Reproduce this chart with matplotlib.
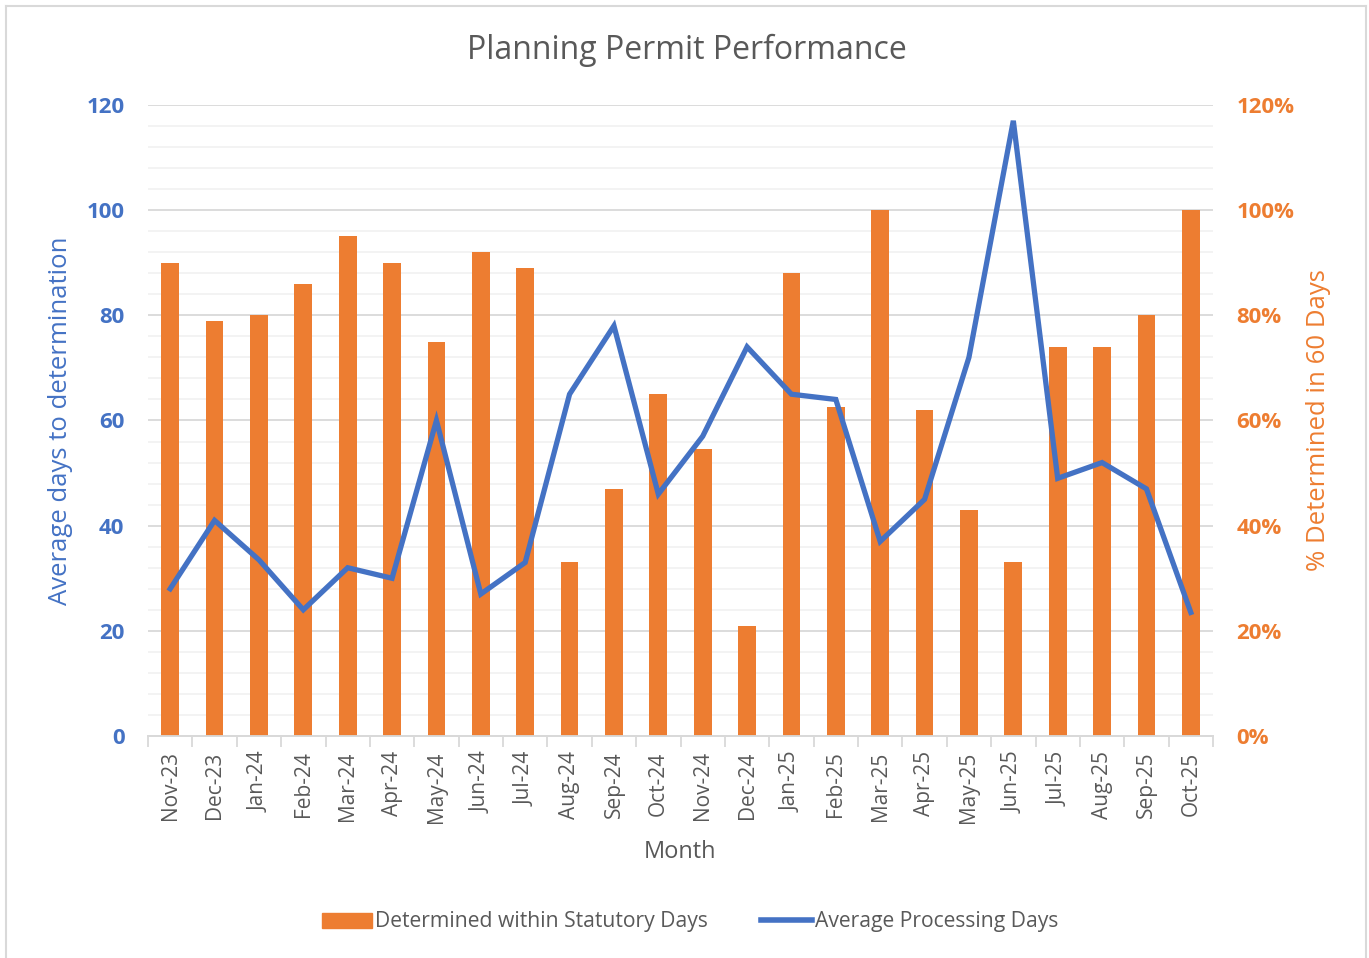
import matplotlib
matplotlib.use("Agg")
import matplotlib.pyplot as plt
from matplotlib.lines import Line2D
from matplotlib.patches import Patch
from matplotlib.ticker import MultipleLocator, FuncFormatter
import numpy as np

months = ["Nov-23", "Dec-23", "Jan-24", "Feb-24", "Mar-24", "Apr-24", "May-24", "Jun-24",
          "Jul-24", "Aug-24", "Sep-24", "Oct-24", "Nov-24", "Dec-24", "Jan-25", "Feb-25",
          "Mar-25", "Apr-25", "May-25", "Jun-25", "Jul-25", "Aug-25", "Sep-25", "Oct-25"]
pct_within = [90, 79, 80, 86, 95, 90, 75, 92, 89, 33, 47, 65, 54.5, 21, 88, 62.5,
              100, 62, 43, 33, 74, 74, 80, 100]
avg_days = [28, 41, 33.5, 24, 32, 30, 60, 27, 33, 65, 78, 46, 57, 74, 65, 64,
            37, 45, 72, 117, 49, 52, 47, 23.5]

BLUE = "#4472C4"
ORANGE = "#ED7D31"
GRAY = "#595959"
FONT = "Open Sans"

plt.rcParams['font.family'] = [FONT, 'DejaVu Sans']

W, H = 1369, 958
fig = plt.figure(figsize=(W / 100, H / 100), dpi=100)
fig.patch.set_facecolor("white")

left, right, top, bottom = 148, 1213, 105, 736
ax2 = fig.add_axes([left / W, 1 - bottom / H, (right - left) / W, (bottom - top) / H])
ax = ax2.twinx()
ax.yaxis.tick_left()
ax.yaxis.set_label_position("left")
ax2.yaxis.tick_right()
ax2.yaxis.set_label_position("right")

x = np.arange(len(months))

# bars on ax2 (percent)
ax2.bar(x, np.array(pct_within) / 100.0, width=0.4, color=ORANGE, zorder=3)
ax2.set_ylim(0, 1.2)
ax2.yaxis.set_major_locator(MultipleLocator(0.2))
ax2.yaxis.set_minor_locator(MultipleLocator(0.04))
ax2.yaxis.set_major_formatter(FuncFormatter(lambda v, p: f"{v*100:.0f}%"))
ax2.grid(True, which="major", axis="y", color="#D9D9D9", linewidth=1.3, zorder=0)
ax2.grid(True, which="minor", axis="y", color="#F2F2F2", linewidth=1.3, zorder=0)
ax2.set_axisbelow(True)
ax2.tick_params(axis="y", which="both", length=0, labelsize=16, labelcolor=ORANGE, pad=17)
for lab in ax2.get_yticklabels():
    lab.set_fontweight("bold")
ax2.set_ylabel("% Determined in 60 Days", color=ORANGE, fontsize=18.5, rotation=90)
ax2.yaxis.set_label_coords(1.0986, 0.5)
ax2.yaxis.label.set_va("center")

# line on ax (days)
ax.plot(x, avg_days, color=BLUE, linewidth=3.8, solid_joinstyle="miter", zorder=5)
ax.set_ylim(0, 120)
ax.yaxis.set_major_locator(MultipleLocator(20))
ax.tick_params(axis="y", which="both", length=0, labelsize=16, labelcolor=BLUE, pad=17)
for lab in ax.get_yticklabels():
    lab.set_fontweight("bold")
ax.set_ylabel("Average days to determination", color=BLUE, fontsize=18.5)
ax.yaxis.set_label_coords(-0.0826, 0.5)
ax.yaxis.label.set_va("center")

ax.set_zorder(ax2.get_zorder() + 1)
ax.patch.set_visible(False)

for a in (ax, ax2):
    for s in ("top", "right", "left"):
        a.spines[s].set_visible(False)
    a.spines["bottom"].set_color("#D9D9D9")
    a.spines["bottom"].set_linewidth(1.3)

ax2.set_xlim(-0.5, len(months) - 0.5)
ax.set_xlim(-0.5, len(months) - 0.5)
ax2.set_xticks(x)
ax2.set_xticklabels(months, rotation=90, fontsize=15, color=GRAY)
ax2.set_xticks(np.arange(-0.5, len(months), 1.0), minor=True)
ax2.tick_params(axis="x", which="major", length=0, pad=11)
ax2.tick_params(axis="x", which="minor", length=8, color="#D9D9D9", width=1.3)
ax.tick_params(axis="x", which="both", length=0, labelbottom=False)
ax2.set_xlabel("Month", fontsize=17, color=GRAY)
ax2.xaxis.set_label_coords(0.5, -0.184)
ax2.xaxis.label.set_va("center")

fig.text(687 / W, 1 - 50 / H, "Planning Permit Performance", ha="center", va="center",
         fontsize=23, color=GRAY)

handles = [Patch(facecolor=ORANGE, edgecolor=ORANGE),
           Line2D([0], [0], color=BLUE, linewidth=4)]
labels = ["Determined within Statutory Days", "Average Processing Days"]
fig.legend(handles, labels, loc="center", bbox_to_anchor=(690 / W, 1 - 922 / H), ncol=2,
           frameon=False, fontsize=15.2, labelcolor=GRAY, handlelength=2.4, handletextpad=0.15,
           columnspacing=2.5)

# outer border
fig.add_artist(Line2D([6 / W, 6 / W], [0, 1 - 6 / H], transform=fig.transFigure, color="#D9D9D9", linewidth=1.5))
fig.add_artist(Line2D([6 / W, 1366 / W], [1 - 6 / H, 1 - 6 / H], transform=fig.transFigure, color="#D9D9D9", linewidth=1.5))
fig.add_artist(Line2D([1366 / W, 1366 / W], [0, 1 - 6 / H], transform=fig.transFigure, color="#D9D9D9", linewidth=1.5))

fig.savefig("out.png", dpi=100, facecolor="white")
